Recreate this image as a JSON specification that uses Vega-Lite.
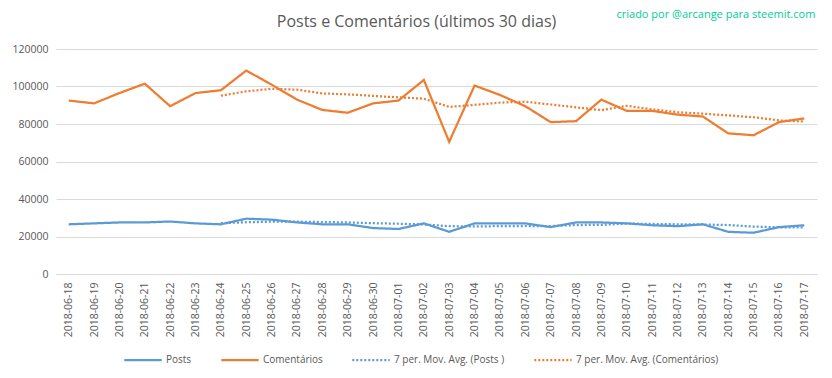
{
  "$schema": "https://vega.github.io/schema/vega-lite/v6.json",
  "width": 761,
  "height": 225,
  "autosize": {"type": "none"},
  "padding": {"left": 56, "top": 49, "right": 15, "bottom": 104},
  "background": "white",
  "title": {
    "text": "Posts e Comentários  (últimos 30 dias)",
    "font": "Open Sans",
    "fontSize": 16,
    "fontWeight": "normal",
    "color": "#595959",
    "anchor": "middle",
    "dx": -20,
    "offset": -21
  },
  "config": {
    "view": {"stroke": null},
    "font": "Open Sans"
  },
  "data": {
    "values": [
      {"d": "2018-06-18", "P": 26500, "C": 92500},
      {"d": "2018-06-19", "P": 27000, "C": 91000},
      {"d": "2018-06-20", "P": 27500, "C": 96500},
      {"d": "2018-06-21", "P": 27500, "C": 101500},
      {"d": "2018-06-22", "P": 28000, "C": 89500},
      {"d": "2018-06-23", "P": 27000, "C": 96500},
      {"d": "2018-06-24", "P": 26500, "C": 98000, "MP": 27100, "MC": 95100},
      {"d": "2018-06-25", "P": 29500, "C": 108500, "MP": 27600, "MC": 97400},
      {"d": "2018-06-26", "P": 29000, "C": 101000, "MP": 27900, "MC": 98800},
      {"d": "2018-06-27", "P": 27500, "C": 93000, "MP": 27900, "MC": 98300},
      {"d": "2018-06-28", "P": 26500, "C": 87500, "MP": 27700, "MC": 96300},
      {"d": "2018-06-29", "P": 26500, "C": 86000, "MP": 27500, "MC": 95800},
      {"d": "2018-06-30", "P": 24500, "C": 91000, "MP": 27100, "MC": 95000},
      {"d": "2018-07-01", "P": 24000, "C": 92500, "MP": 26800, "MC": 94200},
      {"d": "2018-07-02", "P": 27000, "C": 103500, "MP": 26400, "MC": 93500},
      {"d": "2018-07-03", "P": 22500, "C": 70500, "MP": 25500, "MC": 89100},
      {"d": "2018-07-04", "P": 27000, "C": 100500, "MP": 25400, "MC": 90200},
      {"d": "2018-07-05", "P": 27000, "C": 95500, "MP": 25500, "MC": 91400},
      {"d": "2018-07-06", "P": 27000, "C": 89500, "MP": 25600, "MC": 91900},
      {"d": "2018-07-07", "P": 25000, "C": 81000, "MP": 25600, "MC": 90400},
      {"d": "2018-07-08", "P": 27500, "C": 81500, "MP": 26100, "MC": 88900},
      {"d": "2018-07-09", "P": 27500, "C": 93000, "MP": 26200, "MC": 87400},
      {"d": "2018-07-10", "P": 27000, "C": 87000, "MP": 26900, "MC": 89700},
      {"d": "2018-07-11", "P": 26000, "C": 87000, "MP": 26700, "MC": 87800},
      {"d": "2018-07-12", "P": 25500, "C": 85000, "MP": 26500, "MC": 86300},
      {"d": "2018-07-13", "P": 26500, "C": 84000, "MP": 26400, "MC": 85500},
      {"d": "2018-07-14", "P": 22500, "C": 75000, "MP": 26100, "MC": 84600},
      {"d": "2018-07-15", "P": 22000, "C": 74000, "MP": 25300, "MC": 83600},
      {"d": "2018-07-16", "P": 25000, "C": 81000, "MP": 24900, "MC": 81900},
      {"d": "2018-07-17", "P": 26000, "C": 83000, "MP": 24800, "MC": 81300}
    ]
  },
  "layer": [
    {
      "transform": [
        {"fold": ["P", "C", "MP", "MC"], "as": ["s", "v"]},
        {"filter": "isValid(datum.v)"}
      ],
      "mark": {"type": "line", "strokeWidth": 2.25, "strokeCap": "butt"},
      "encoding": {
        "x": {
          "field": "d",
          "type": "ordinal",
          "scale": {"type": "point", "padding": 0.5},
          "axis": {
            "title": null,
            "labelAngle": -90,
            "labelFontSize": 10.5,
            "labelColor": "#595959",
            "labelPadding": 8,
            "ticks": false,
            "domainColor": "#d9d9d9",
            "domainWidth": 1,
            "grid": false,
            "labelAlign": "right",
            "labelBaseline": "middle"
          }
        },
        "y": {
          "field": "v",
          "type": "quantitative",
          "scale": {"domain": [0, 120000], "nice": false},
          "axis": {
            "title": null,
            "values": [0, 20000, 40000, 60000, 80000, 100000, 120000],
            "tickCount": 7,
            "format": "d",
            "labelFontSize": 10.5,
            "labelColor": "#595959",
            "labelPadding": 8,
            "ticks": false,
            "domain": false,
            "gridColor": "#d9d9d9",
            "gridWidth": 1
          }
        },
        "color": {
          "field": "s",
          "type": "nominal",
          "scale": {
            "domain": ["P", "C", "MP", "MC"],
            "range": ["#5B9BD5", "#ED7D31", "#5B9BD5", "#ED7D31"]
          },
          "legend": {
            "title": null,
            "orient": "none",
            "legendX": 67,
            "legendY": 291,
            "direction": "horizontal",
            "symbolType": "stroke",
            "symbolSize": 1400,
            "symbolStrokeWidth": 2.25,
            "labelFontSize": 10,
            "labelOffset": 3,
            "labelColor": "#595959",
            "columnPadding": 24,
            "labelExpr": "{'P':'Posts','C':'Comentários','MP':'7 per. Mov. Avg. (Posts )','MC':'7 per. Mov. Avg. (Comentários)'}[datum.label]"
          }
        },
        "strokeDash": {
          "field": "s",
          "type": "nominal",
          "scale": {
            "domain": ["P", "C", "MP", "MC"],
            "range": [[1, 0], [1, 0], [2, 2], [2, 2]]
          },
          "legend": {
            "title": null,
            "orient": "none",
            "legendX": 67,
            "legendY": 291,
            "direction": "horizontal",
            "symbolType": "stroke",
            "symbolSize": 1400,
            "symbolStrokeWidth": 2.25,
            "labelFontSize": 10,
            "labelOffset": 3,
            "labelColor": "#595959",
            "columnPadding": 24,
            "labelExpr": "{'P':'Posts','C':'Comentários','MP':'7 per. Mov. Avg. (Posts )','MC':'7 per. Mov. Avg. (Comentários)'}[datum.label]"
          }
        }
      }
    },
    {
      "data": {"values": [{"t": "criado por @arcange para steemit.com"}]},
      "mark": {
        "type": "text",
        "align": "right",
        "baseline": "middle",
        "dx": 11,
        "dy": -34,
        "fontSize": 11,
        "color": "#00CC99"
      },
      "encoding": {
        "x": {"datum": "2018-07-17"},
        "y": {"datum": 120000},
        "text": {"field": "t"}
      }
    }
  ]
}
